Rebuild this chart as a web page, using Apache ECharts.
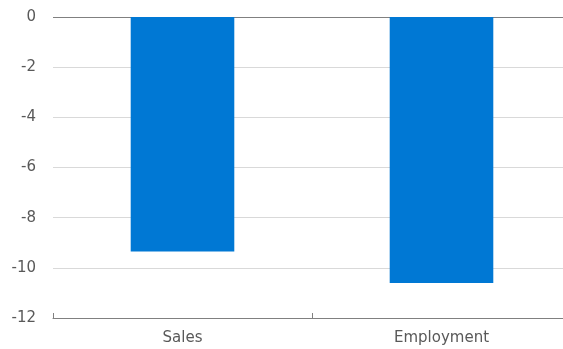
<!DOCTYPE html>
<html>
<head>
<meta charset="utf-8">
<script src="https://cdn.jsdelivr.net/npm/echarts@6/dist/echarts.min.js"></script>
<style>
  html, body { margin: 0; padding: 0; background: #ffffff; overflow: hidden; }
  #chart { width: 571px; height: 349px; }
</style>
</head>
<body>
<div id="chart"></div>
<script>
// Percentage change by measure
const categories = ['Sales', 'Employment'];
const values = [-9.35, -10.6];
const yTicks = [-12, -10, -8, -6, -4, -2, 0];

const chart = echarts.init(document.getElementById('chart'));
const textColor = '#595959';
const fontFamily = '"DejaVu Sans", Verdana, sans-serif';

chart.setOption({
  animation: false,
  grid: { left: 53, right: 0, top: 17, bottom: 31 },
  xAxis: {
    type: 'category',
    data: categories,
    position: 'bottom',
    axisLine: { onZero: false, lineStyle: { color: '#808080', width: 1 } },
    axisTick: { show: true, inside: true, length: 5, lineStyle: { color: '#808080' } },
    axisLabel: { color: textColor, fontSize: 15, fontFamily: fontFamily, margin: 13 }
  },
  yAxis: {
    type: 'value',
    min: yTicks[0],
    max: yTicks[yTicks.length - 1],
    interval: 2,
    axisLine: { show: false },
    axisTick: { show: false },
    axisLabel: { color: textColor, fontSize: 15, fontFamily: fontFamily, margin: 17 },
    splitLine: {
      lineStyle: {
        color: yTicks.map(v => v === 0 ? '#808080' : '#d9d9d9'),
        width: 1
      }
    }
  },
  series: [{
    type: 'bar',
    data: values,
    barWidth: '40%',
    itemStyle: { color: '#0078d4' }
  }]
});
</script>
</body>
</html>
